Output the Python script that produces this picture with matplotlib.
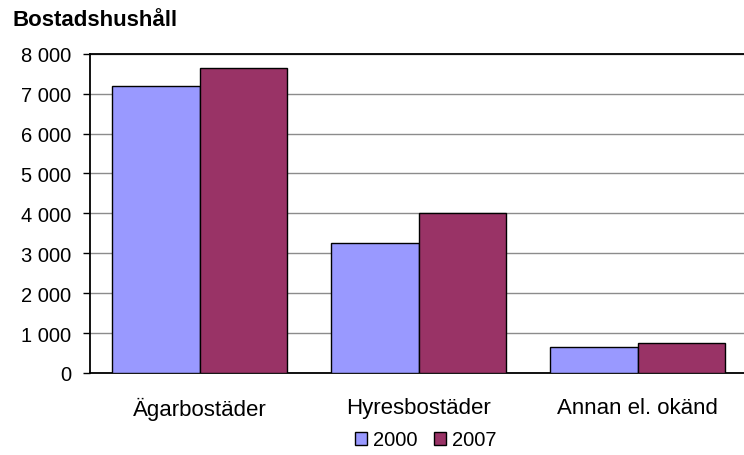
import numpy as np
import matplotlib
matplotlib.use("Agg")
import matplotlib.pyplot as plt
from matplotlib.ticker import FuncFormatter

categories = ["Ägarbostäder", "Hyresbostäder", "Annan el. okänd"]
years = ["2000", "2007"]
values_2000 = [7200, 3250, 640]
values_2007 = [7650, 4000, 740]
yticks = [0, 1000, 2000, 3000, 4000, 5000, 6000, 7000, 8000]

plt.rcParams['font.family'] = ['Liberation Sans', 'DejaVu Sans']
plt.rcParams['font.size'] = 14.5

color_2000 = '#9999FF'
color_2007 = '#993366'

fig = plt.figure(figsize=(7.44, 4.56), dpi=100)
ax = fig.add_axes([90.3 / 744, 1 - 374 / 456, 657 / 744, 319.3 / 456])

x = np.arange(len(categories))
w = 0.4
ax.bar(x - w / 2, values_2000, w, color=color_2000, edgecolor='black', linewidth=1.0, label=years[0], zorder=3)
ax.bar(x + w / 2, values_2007, w, color=color_2007, edgecolor='black', linewidth=1.0, label=years[1], zorder=3)

ax.set_xlim(-0.5, 2.5)
ax.set_ylim(0, 8000)
ax.set_yticks(yticks)
ax.yaxis.set_major_formatter(FuncFormatter(lambda v, p: f"{int(v):,}".replace(",", " ")))
ax.set_xticks(x)
ax.set_xticklabels(categories, fontsize=16)

ax.grid(axis='y', color='#8c8c8c', linewidth=1.0, zorder=0)
ax.set_axisbelow(True)
for side in ['top', 'left', 'bottom']:
    ax.spines[side].set_color('black')
    ax.spines[side].set_linewidth(1.3)
ax.spines['right'].set_visible(False)

ax.tick_params(axis='y', direction='out', length=5, width=1, pad=8.5, colors='black')
ax.tick_params(axis='x', length=0, pad=17, colors='black')

fig.text(12 / 744, 1 - 20 / 456, "Bostadshushåll", fontsize=16, fontweight='bold', va='center', ha='left')

fig.legend(loc='center', bbox_to_anchor=(426 / 744, 1 - 441 / 456), ncol=2, frameon=False,
           handlelength=0.6, handleheight=0.6, handletextpad=0.3, columnspacing=0.8, fontsize=14.5)

plt.savefig("out.png", dpi=100)
